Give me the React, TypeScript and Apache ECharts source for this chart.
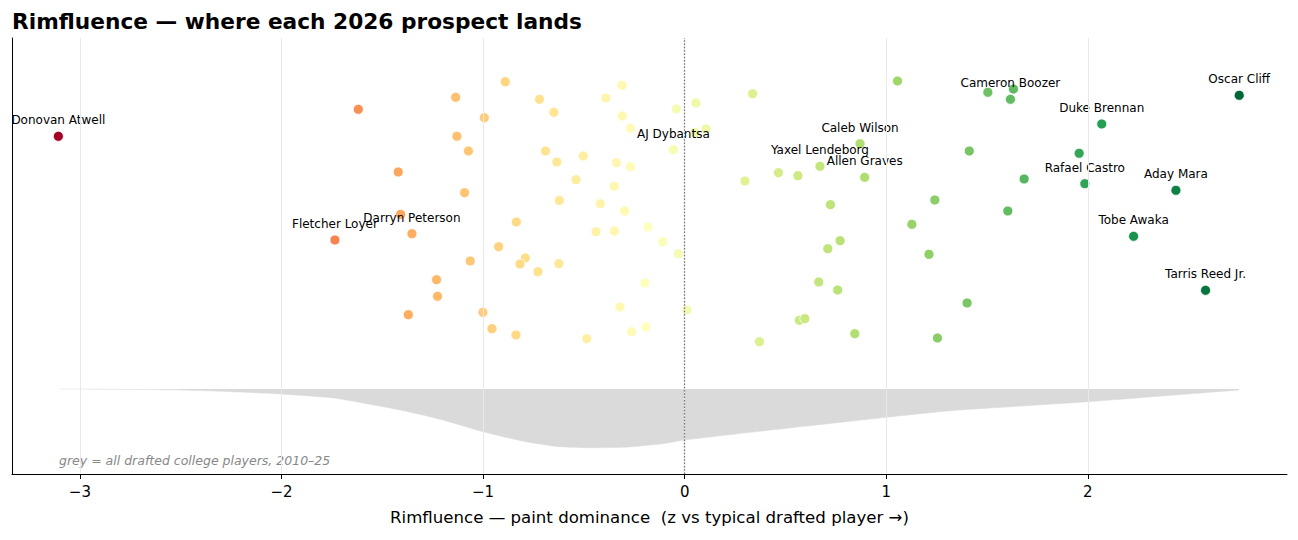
import React, { useEffect, useRef } from "react";
import * as echarts from "echarts";

// Rimfluence z-score of each 2026 prospect (x) and vertical jitter (y)
const playerX = [
  -3.107, -1.735, -1.353, -1.409, -1.619, -1.421, -1.371, -1.231, -1.226, -1.136,
  -1.130, -1.073, -1.092, -1.064, -0.994, -1.001, -0.956, -0.923, -0.890, -0.835,
  -0.837, -0.791, -0.817, -0.728, -0.720, -0.690, -0.649, -0.634, -0.622, -0.624,
  -0.539, -0.503, -0.486, -0.440, -0.418, -0.391, -0.349, -0.349, -0.339, -0.321,
  -0.311, -0.309, -0.298, -0.269, -0.269, -0.263, -0.197, -0.192, -0.182, -0.108,
  -0.056, -0.041, -0.031, 0.011, 0.051, 0.056, 0.106, 0.299, 0.337, 0.371,
  0.465, 0.562, 0.569, 0.596, 0.665, 0.671, 0.710, 0.723, 0.759, 0.771,
  0.844, 0.870, 0.893, 1.056, 1.127, 1.212, 1.241, 1.254, 1.401, 1.412,
  1.504, 1.603, 1.616, 1.631, 1.684, 1.957, 1.985, 2.069, 2.227, 2.437,
  2.584, 2.751,
];
const playerY = [
  2.527, 1.49, 1.553, 1.747, 2.797, 2.17, 0.743, 1.093, 0.927, 2.917,
  2.527, 2.38, 1.963, 1.28, 2.713, 0.767, 0.603, 1.423, 3.073, 1.67,
  0.54, 1.31, 1.25, 1.173, 2.897, 2.38, 2.767, 2.27, 1.885, 1.253,
  2.093, 2.33, 0.503, 1.573, 1.853, 2.91, 2.027, 1.58, 2.263, 0.82,
  3.037, 2.73, 1.78, 2.607, 2.223, 0.573, 1.06, 0.62, 1.62, 1.473,
  2.393, 2.8, 1.353, 0.79, 2.563, 2.86, 2.6, 2.08, 2.953, 0.473,
  2.163, 2.133, 0.687, 0.703, 1.07, 2.227, 1.403, 1.843, 0.99, 1.483,
  0.553, 2.453, 2.117, 3.08, 1.647, 1.347, 1.89, 0.51, 0.86, 2.38,
  2.967, 1.78, 2.897, 3.0, 2.1, 2.357, 2.053, 2.65, 1.527, 1.987,
  0.987, 2.937,
];
const playerName = [
  "Donovan Atwell", "Fletcher Loyer", "Darryn Peterson", "", "", "", "", "", "", "",
  "", "", "", "", "", "", "", "", "", "",
  "", "", "", "", "", "", "", "", "", "",
  "", "", "", "", "", "", "", "", "", "",
  "", "", "", "", "", "", "", "", "", "",
  "AJ Dybantsa", "", "", "", "", "", "", "", "", "",
  "", "", "", "", "", "Yaxel Lendeborg", "", "", "", "",
  "", "Caleb Wilson", "Allen Graves", "", "", "", "", "", "", "",
  "", "", "Cameron Boozer", "", "", "", "Rafael Castro", "Duke Brennan", "Tobe Awaka", "Aday Mara",
  "Tarris Reed Jr.", "Oscar Cliff",
];

// grey distribution of all drafted college players (drawn below the baseline)
const densityX = [
  -3.1, -2.8, -2.56, -2.3, -2.14, -2.0, -1.86, -1.73, -1.57, -1.41, -1.2, -1.0,
  -0.79, -0.62, -0.47, -0.3, -0.12, 0.0, 0.4, 1.0, 1.32, 2.0, 2.75,
];
const densityY = [
  0, -0.003, -0.008, -0.023, -0.037, -0.05, -0.07, -0.093, -0.15, -0.21, -0.31, -0.427,
  -0.527, -0.577, -0.587, -0.583, -0.55, -0.51, -0.417, -0.283, -0.217, -0.127, -0.01,
];

const xTicks = [-3, -2, -1, 0, 1, 2];

const RdYlGn = [
  "#a50026", "#d73027", "#f46d43", "#fdae61", "#fee08b", "#ffffbf",
  "#d9ef8b", "#a6d96a", "#66bd63", "#1a9850", "#006837",
];

const FONT = "DejaVu Sans";

export default function App() {
  const ref = useRef<HTMLDivElement>(null);

  useEffect(() => {
    document.body.style.margin = "0";
    const chart = echarts.init(ref.current!, null, { renderer: "svg" });

    const scatterData = playerX.map((x, i) => {
      const item: any = { value: [x, playerY[i]], name: playerName[i] };
      if (playerName[i]) item.label = { show: true };
      return item;
    });

    const minX = Math.min(...playerX);
    const maxX = Math.max(...playerX);

    const option: any = {
      animation: false,
      backgroundColor: "#ffffff",
      title: {
        text: "Rimfluence — where each 2026 prospect lands",
        left: 12,
        top: 10,
        padding: 0,
        textStyle: { fontFamily: FONT, fontSize: 21.7, fontWeight: "bold", color: "#000" },
      },
      grid: { left: 12, right: 11, top: 38, bottom: 66, outerBoundsMode: "none" },
      xAxis: {
        type: "value",
        min: -3.337,
        max: 2.988,
        name: "Rimfluence — paint dominance  (z vs typical drafted player →)",
        nameLocation: "middle",
        nameGap: 35,
        nameTextStyle: { fontFamily: FONT, fontSize: 16.6, color: "#000" },
        axisLine: { show: true, onZero: false, lineStyle: { color: "#000", width: 1 } },
        axisTick: { show: true, length: 5, lineStyle: { color: "#000", width: 1 }, customValues: xTicks },
        axisLabel: {
          show: true,
          customValues: xTicks,
          margin: 10,
          fontFamily: FONT,
          fontSize: 15,
          color: "#000",
          formatter: (v: number) => (v < 0 ? "\u2212" + Math.abs(v) : String(v)),
        },
        splitLine: { show: false },
      },
      yAxis: {
        type: "value",
        min: -0.85,
        max: 3.51,
        axisLine: { show: true, onZero: false, lineStyle: { color: "#000", width: 1 } },
        axisTick: { show: false },
        axisLabel: { show: false },
        splitLine: { show: false },
      },
      visualMap: {
        type: "continuous",
        show: false,
        seriesIndex: 3,
        dimension: 0,
        min: minX,
        max: maxX,
        inRange: { color: RdYlGn },
      },
      graphic: [
        {
          type: "text",
          x: 59,
          y: 460,
          style: {
            text: "grey = all drafted college players, 2010–25",
            fontFamily: FONT,
            fontSize: 12.5,
            fontStyle: "italic",
            fill: "#888888",
            verticalAlign: "middle",
          },
        },
      ],
      series: [
        {
          type: "line",
          data: [],
          z: 0,
          silent: true,
          markLine: {
            silent: true,
            symbol: "none",
            label: { show: false },
            lineStyle: { color: "#e8e8e8", width: 1, type: "solid" },
            data: xTicks.map((t) => ({ xAxis: t })),
          },
        },
        {
          type: "line",
          z: 1,
          silent: true,
          symbol: "none",
          smooth: 0.2,
          data: densityX.map((x, i) => [x, densityY[i]]),
          lineStyle: { width: 0.5, color: "#dadada" },
          areaStyle: { color: "#dadada", opacity: 1, origin: 0 },
        },
        {
          type: "line",
          data: [],
          z: 2,
          silent: true,
          markLine: {
            silent: true,
            symbol: "none",
            label: { show: false },
            lineStyle: { color: "#777777", width: 1.3, type: [1.5, 1.8] },
            data: [{ xAxis: 0 }],
          },
        },
        {
          type: "scatter",
          z: 3,
          symbolSize: 10,
          itemStyle: { borderColor: "#ffffff", borderWidth: 0.8, opacity: 1 },
          label: {
            show: false,
            position: "inside",
            offset: [0, -16],
            formatter: "{b}",
            fontFamily: FONT,
            fontSize: 12,
            color: "#000",
          },
          data: scatterData,
        },
      ],
    };

    chart.setOption(option);
    return () => chart.dispose();
  }, []);

  return <div ref={ref} style={{ width: 1298, height: 540 }} />;
}
